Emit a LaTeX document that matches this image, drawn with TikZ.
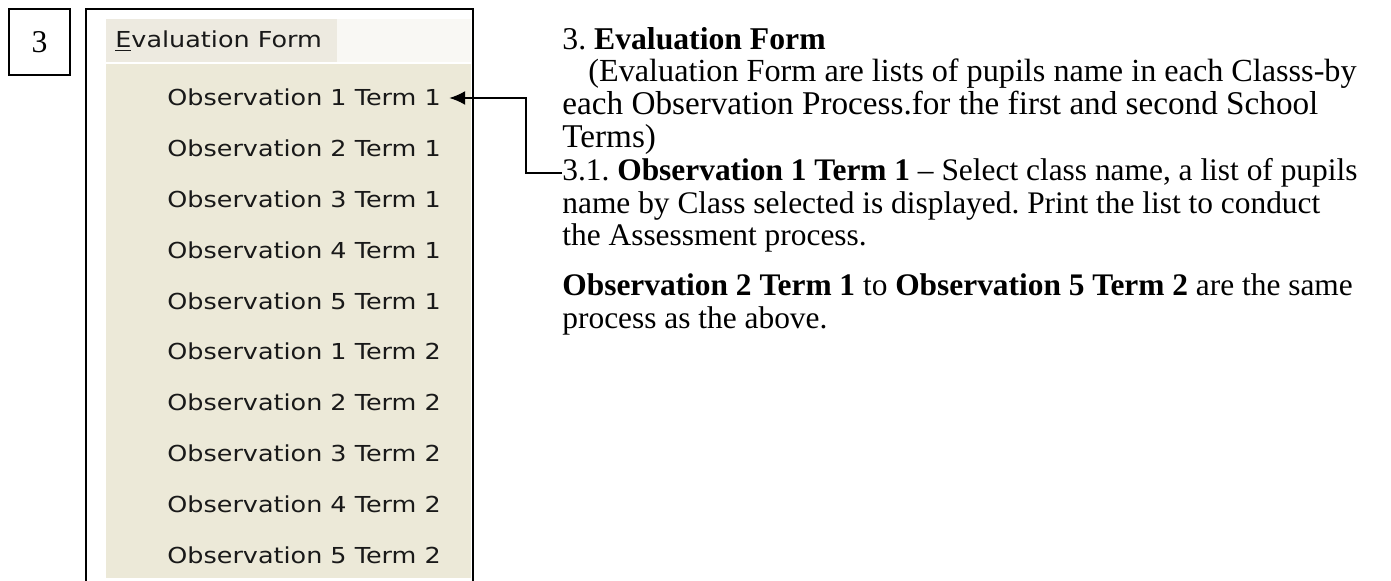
\documentclass[tikz,border=0pt]{standalone}
\usepackage{fontspec}
\setmainfont{Liberation Serif}
\newfontfamily\menufont[FakeStretch=1.157]{DejaVu Sans}
\usetikzlibrary{arrows.meta, positioning}
\definecolor{menubg}{HTML}{ECE9D8}
\definecolor{headbg}{HTML}{EDEAE0}
\definecolor{headlight}{HTML}{F9F8F4}
\frenchspacing
\tikzset{
>={Latex[length=8pt,width=7pt]}, % filled arrow heads
node distance=25.4pt, % spacing of the menu entries
numbox/.style={draw, line width=1pt, minimum width=30.5pt, minimum height=33pt, font=\fontsize{15.85}{19}\selectfont}, % the section number
menuitem/.style={font=\menufont\fontsize{11}{13}\selectfont, text=black!90, inner sep=0pt, text height=8pt, text depth=0pt}, % one entry of the menu
textline/.style={font=\fontsize{15.7}{19}\selectfont, inner sep=0pt, anchor=base west}, % one line of the description
wideline/.style={textline, font=\fontsize{16.6}{19}\selectfont}, % the lines in brackets are set a bit larger
}

\begin{document}
\begin{tikzpicture}[x=0.5pt, y=-0.5pt]
        \useasboundingbox (0,0) rectangle (1391,581);

        % section number and frame round the menu
        \node[numbox] (sec) at (39.5,42) {3};
        \draw[line width=1pt] (86,581) -- (86,9) -- (473,9) -- (473,581);

        % the menu itself
        \fill[headbg] (106,19) rectangle (337,62);
        \fill[headlight] (337,19) rectangle (471,62);
        \fill[white] (106,62) rectangle (471,64);
        \fill[menubg] (106,64) rectangle (471,578);

        \node[menuitem, anchor=base west] (head) at (115,48) {\underline{E}valuation Form};
        \node[menuitem, anchor=west] (m1) at (167,98) {Observation 1 Term 1};
        \node[menuitem, below of=m1] (m2) {Observation 2 Term 1};
        \node[menuitem, below of=m2] (m3) {Observation 3 Term 1};
        \node[menuitem, below of=m3] (m4) {Observation 4 Term 1};
        \node[menuitem, below of=m4] (m5) {Observation 5 Term 1};
        \node[menuitem, below of=m5] (m6) {Observation 1 Term 2};
        \node[menuitem, below of=m6] (m7) {Observation 2 Term 2};
        \node[menuitem, below of=m7] (m8) {Observation 3 Term 2};
        \node[menuitem, below of=m8] (m9) {Observation 4 Term 2};
        \node[menuitem, below of=m9] (m10) {Observation 5 Term 2};

        % description on the right
        \node[textline, font=\fontsize{15.85}{19}\selectfont] (t1) at (562,50) {3. \textbf{Evaluation Form}};
        \node[wideline, font=\fontsize{16.1}{19}\selectfont] (t2) at (588,82) {(Evaluation Form are lists of pupils name in each Classs-by};
        \node[wideline] (t3) at (562,115) {each Observation Process.for the first and second School};
        \node[wideline] (t4) at (562,148) {Terms)};
        \node[textline] (s1) at (562,181) {3.1. \textbf{Observation 1 Term 1} – Select class name, a list of pupils};
        \node[textline] (s2) at (562,214) {name by Class selected is displayed. Print the list to conduct};
        \node[textline] (s3) at (562,246) {the Assessment process.};
        \node[textline] (r1) at (562,296) {\textbf{Observation 2 Term 1} to \textbf{Observation 5 Term 2} are the same};
        \node[textline] (r2) at (562,329) {process as the above.};

        \coordinate (bend) at (526,98);
        \draw[->, line width=1pt, shorten >=4pt] (s1.west) -| (bend) -- (m1.east);
      \end{tikzpicture}
\end{document}
